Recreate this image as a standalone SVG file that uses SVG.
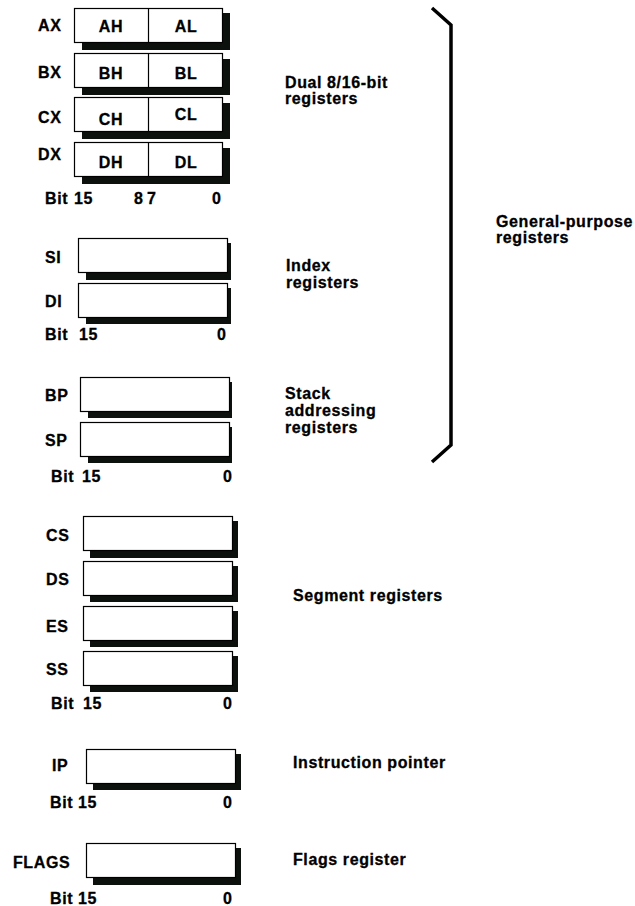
<svg xmlns="http://www.w3.org/2000/svg" width="635" height="906" viewBox="0 0 635 906">
<style>
.t{font-family:"Liberation Sans",Arial,sans-serif;font-weight:bold;font-size:16px;letter-spacing:0.6px;fill:#000;stroke:#000;stroke-width:0.3}
.m{text-anchor:middle}
.box{fill:#fff;stroke:#000;stroke-width:1.2}
.sh{fill:#0d110d}
.div{stroke:#000;stroke-width:1.2}
</style>
<rect width="635" height="906" fill="#fff"/>

<g id="AX">
<rect class="sh" x="82" y="13" width="148" height="37"/>
<rect class="box" x="74.5" y="8.5" width="148" height="34"/>
<line class="div" x1="148.5" y1="8.5" x2="148.5" y2="42.5"/>
<text class="t" x="38" y="31">AX</text>
<text class="t m" x="111" y="32">AH</text>
<text class="t m" x="186" y="32">AL</text>
</g>
<g id="BX">
<rect class="sh" x="82" y="59" width="148" height="36"/>
<rect class="box" x="74.5" y="53.5" width="148" height="34"/>
<line class="div" x1="148.5" y1="53.5" x2="148.5" y2="87.5"/>
<text class="t" x="38" y="78">BX</text>
<text class="t m" x="111" y="79">BH</text>
<text class="t m" x="186" y="79">BL</text>
</g>
<g id="CX">
<rect class="sh" x="82" y="103" width="148" height="36"/>
<rect class="box" x="74.5" y="97.5" width="148" height="34"/>
<line class="div" x1="148.5" y1="97.5" x2="148.5" y2="131.5"/>
<text class="t" x="38" y="123">CX</text>
<text class="t m" x="111" y="125">CH</text>
<text class="t m" x="186" y="120">CL</text>
</g>
<g id="DX">
<rect class="sh" x="82" y="148" width="148" height="36"/>
<rect class="box" x="74.5" y="142.5" width="148" height="34"/>
<line class="div" x1="148.5" y1="142.5" x2="148.5" y2="176.5"/>
<text class="t" x="38" y="160">DX</text>
<text class="t m" x="111" y="168">DH</text>
<text class="t m" x="186" y="168">DL</text>
</g>
<g id="bits-dual">
<text class="t" x="45" y="204">Bit</text>
<text class="t" x="74" y="204">15</text>
<text class="t" x="134" y="204">8</text>
<text class="t" x="147" y="204">7</text>
<text class="t" x="212" y="204">0</text>
</g>
<text class="t" x="285" y="88">Dual 8/16-bit</text>
<text class="t" x="285" y="104">registers</text>

<g id="SI">
<rect class="sh" x="86" y="243" width="145" height="37"/>
<rect class="box" x="78.5" y="238.5" width="149" height="34"/>
<text class="t" x="45" y="263">SI</text>
</g>
<g id="DI">
<rect class="sh" x="86" y="288" width="145" height="36"/>
<rect class="box" x="78.5" y="283.5" width="149" height="34"/>
<text class="t" x="45" y="307">DI</text>
</g>
<g id="bits-index">
<text class="t" x="45" y="340">Bit</text>
<text class="t" x="79" y="340">15</text>
<text class="t" x="217" y="340">0</text>
</g>
<text class="t" x="286" y="271">Index</text>
<text class="t" x="286" y="288">registers</text>

<g id="BP">
<rect class="sh" x="88" y="382" width="144" height="36"/>
<rect class="box" x="80.5" y="377.5" width="149" height="34"/>
<text class="t" x="45" y="401">BP</text>
</g>
<g id="SP">
<rect class="sh" x="88" y="427" width="144" height="36"/>
<rect class="box" x="80.5" y="422.5" width="149" height="34"/>
<text class="t" x="45" y="446">SP</text>
</g>
<g id="bits-stack">
<text class="t" x="51" y="482">Bit</text>
<text class="t" x="82" y="482">15</text>
<text class="t" x="223" y="482">0</text>
</g>
<text class="t" x="285" y="399">Stack</text>
<text class="t" x="285" y="416">addressing</text>
<text class="t" x="285" y="433">registers</text>

<g id="bracket">
<path d="M432,8 L451,25 L451,445 L432,462" fill="none" stroke="#000" stroke-width="3.5"/>
</g>
<text class="t" x="496" y="227">General-purpose</text>
<text class="t" x="496" y="243">registers</text>

<g id="CS">
<rect class="sh" x="90" y="521" width="148" height="37"/>
<rect class="box" x="83.5" y="516.5" width="149" height="34"/>
<text class="t" x="46" y="541">CS</text>
</g>
<g id="DS">
<rect class="sh" x="90" y="566" width="148" height="36"/>
<rect class="box" x="83.5" y="561.5" width="149" height="34"/>
<text class="t" x="46" y="585">DS</text>
</g>
<g id="ES">
<rect class="sh" x="90" y="611" width="148" height="36"/>
<rect class="box" x="83.5" y="606.5" width="149" height="34"/>
<text class="t" x="46" y="632">ES</text>
</g>
<g id="SS">
<rect class="sh" x="90" y="656" width="148" height="36"/>
<rect class="box" x="83.5" y="651.5" width="149" height="34"/>
<text class="t" x="46" y="675">SS</text>
</g>
<g id="bits-seg">
<text class="t" x="51" y="709">Bit</text>
<text class="t" x="83" y="709">15</text>
<text class="t" x="223" y="709">0</text>
</g>
<text class="t" x="293" y="601">Segment registers</text>

<g id="IP">
<rect class="sh" x="93" y="754" width="148" height="36"/>
<rect class="box" x="86.5" y="749.5" width="149" height="34"/>
<text class="t" x="52" y="771">IP</text>
</g>
<g id="bits-ip">
<text class="t" x="50" y="808">Bit</text>
<text class="t" x="78" y="808">15</text>
<text class="t" x="223" y="808">0</text>
</g>
<text class="t" x="293" y="768">Instruction pointer</text>

<g id="FLAGS">
<rect class="sh" x="93" y="848" width="148" height="37"/>
<rect class="box" x="86.5" y="843.5" width="149" height="34"/>
<text class="t" x="13" y="868">FLAGS</text>
</g>
<g id="bits-flags">
<text class="t" x="50" y="904">Bit</text>
<text class="t" x="78" y="904">15</text>
<text class="t" x="223" y="904">0</text>
</g>
<text class="t" x="293" y="865">Flags register</text>
</svg>
